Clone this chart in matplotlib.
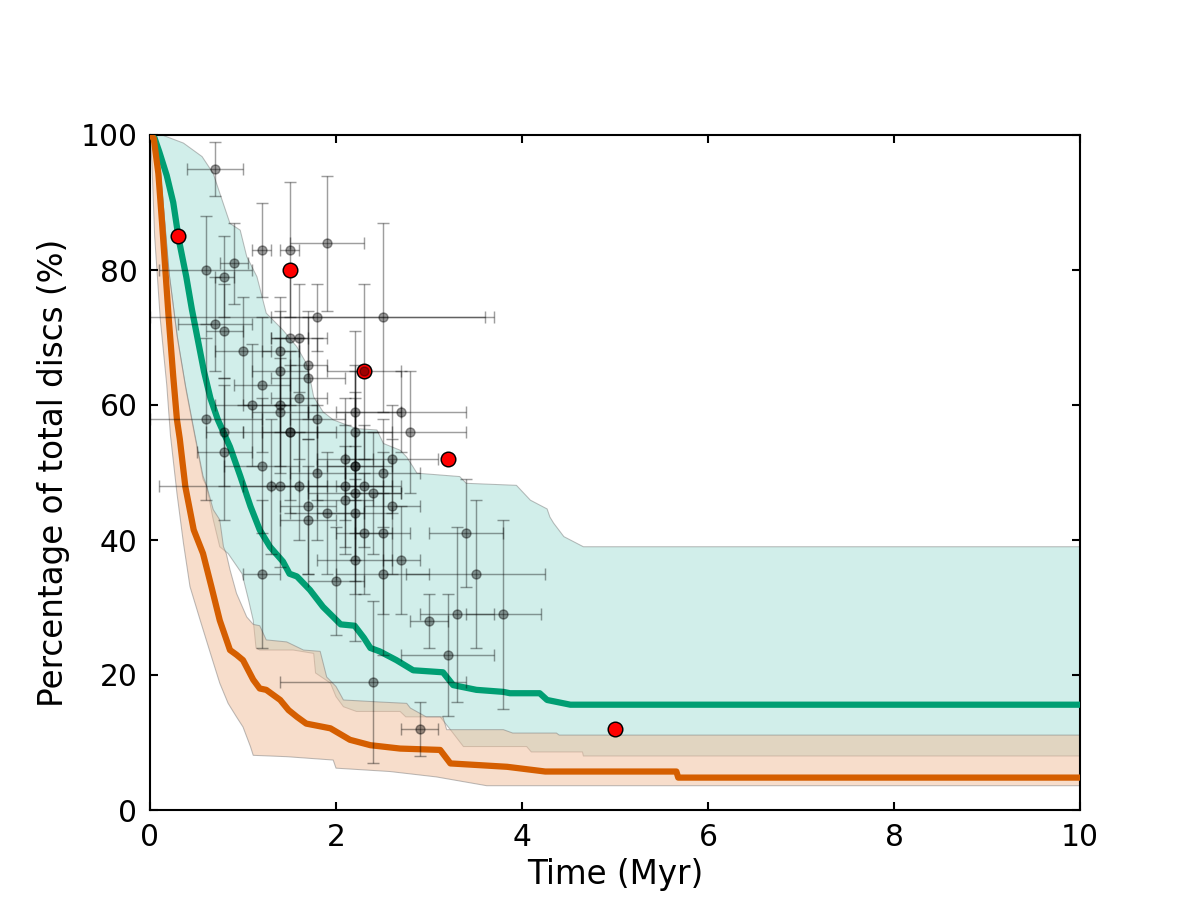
import numpy as np
import matplotlib
matplotlib.use("Agg")
import matplotlib.pyplot as plt

# ---------------- data ----------------
# observed cluster disc fractions (gray) : time (Myr), percentage, errors
gray_t = [0.7, 1.2, 1.5, 1.9, 0.6, 0.9, 0.8, 0.7, 0.8, 1.8, 2.5, 1.0, 1.4, 1.5, 1.6,
          1.4, 1.7, 1.7, 2.3, 0.6, 0.8, 0.8, 1.1, 1.4, 1.4, 1.2, 1.6, 1.5, 1.5, 1.8,
          1.2, 1.3, 1.4, 1.6, 1.7, 1.7, 1.9, 1.8, 1.2, 2.0, 2.2, 2.2, 2.1, 2.2, 2.2,
          2.1, 2.3, 2.2, 2.1, 2.4, 2.5, 2.6, 2.2, 2.6, 2.3, 2.5, 2.2, 2.7, 2.5, 2.7,
          2.8, 3.5, 3.4, 3.3, 3.8, 3.0, 3.2, 2.9, 2.4]
gray_pct = [95, 83, 83, 84, 80, 81, 79, 72, 71, 73, 73, 68, 68, 70, 70,
            65, 66, 64, 65, 58, 56, 53, 60, 60, 59, 63, 61, 56, 56, 58,
            51, 48, 48, 48, 45, 43, 44, 50, 35, 34, 59, 56, 52, 51, 51,
            48, 48, 47, 46, 47, 50, 52, 44, 45, 41, 41, 37, 37, 35, 59,
            56, 35, 41, 29, 29, 28, 23, 12, 19]
gray_terr = [0.3, 0.1, 0.1, 0.4, 0.5, 0.15, 0.1, 0.4, 0.2, 1.8, 1.2, 0.3, 0.2, 0.2, 0.3,
             0.3, 0.2, 0.4, 0.4, 0.6, 0.2, 0.3, 0.4, 0.4, 0.3, 0.3, 0.3, 0.3, 0.5, 0.3,
             0.4, 0.3, 1.3, 0.3, 0.3, 0.3, 0.4, 0.3, 0.2, 0.3, 0.5, 0.4, 0.3, 0.4, 0.3,
             0.4, 0.3, 0.5, 0.3, 0.3, 0.4, 0.5, 0.4, 0.3, 0.3, 0.3, 0.4, 0.2, 0.5, 0.7,
             0.6, 0.75, 0.4, 0.4, 0.4, 0.2, 0.5, 0.2, 1.0]
gray_pcterr = [4, 7, 10, 10, 8, 6, 6, 7, 7, 5, 14, 8, 8, 10, 8,
               9, 8, 9, 13, 12, 8, 10, 9, 10, 8, 10, 9, 12, 10, 12,
               10, 10, 12, 8, 10, 8, 9, 10, 11, 8, 12, 10, 9, 14, 10,
               9, 9, 15, 8, 9, 8, 8, 10, 10, 9, 12, 12, 8, 12, 6,
               9, 11, 8, 13, 14, 4, 9, 4, 12]

# highlighted clusters (red)
red_t = [0.3, 1.5, 2.3, 3.2, 5.0]
red_pct = [85, 80, 65, 52, 12]

# model 1 (green): median and range
green_t = [0, 0.05, 0.1, 0.18, 0.25, 0.31, 0.39, 0.45, 0.58, 0.65, 0.73, 0.86, 0.97,
           1.08, 1.18, 1.29, 1.43, 1.5, 1.58, 1.72, 1.86, 1.97, 2.05, 2.2, 2.3, 2.37,
           2.47, 2.65, 2.83, 3.15, 3.26, 3.51, 3.80, 3.87, 4.19, 4.27, 4.52, 10]
green_med = [100, 99.5, 97.5, 94, 90, 84.5, 79, 74.2, 65, 61, 57.8, 53.8, 49.5,
             45, 41.5, 39, 36.8, 35, 34.6, 32.6, 30.1, 28.6, 27.5, 27.3, 25.5, 24,
             23.5, 22.2, 20.7, 20.4, 18.5, 17.8, 17.5, 17.3, 17.3, 16.3, 15.6, 15.6]

green_up_t = [0, 0.13, 0.36, 0.56, 0.68, 0.75, 0.86, 0.97, 1.04, 1.15, 1.25, 1.43,
              1.58, 1.68, 1.72, 1.76, 1.86, 1.97, 2.22, 2.44, 2.51, 2.69, 2.76, 2.83,
              2.87, 3.33, 3.40, 3.94, 4.09, 4.27, 4.30, 4.34, 4.45, 4.66, 10]
green_up = [100, 100, 98.8, 96.8, 94.3, 91.4, 86.9, 85.9, 82, 79, 73.6, 71.1,
            68.6, 66.2, 64, 61.2, 59, 57.8, 56.5, 56.3, 54.3, 53.3, 52.3, 50.8,
            49.9, 49.4, 48.4, 48.1, 45.9, 44.6, 43.4, 42.5, 40.5, 39.0, 39.0]

green_lo_t = [0, 0.07, 0.1, 0.15, 0.21, 0.3, 0.39, 0.48, 0.57, 0.61, 0.68, 0.75,
              0.84, 0.99, 1.06, 1.11, 1.14, 1.18, 1.54, 1.76, 1.78, 1.94, 2.0, 2.08,
              2.22, 2.69, 2.75, 3.12, 3.23, 3.37, 4.05, 4.1, 4.65, 4.66, 10]
green_lo = [100, 100, 96.5, 88.5, 79, 69.5, 62, 55.5, 49, 47.9, 43, 39,
            38, 35, 31.1, 28.1, 24, 23.7, 23.7, 23.2, 20.3, 18.8, 16.8, 15.3,
            14.6, 14.6, 13.8, 13.8, 11.9, 9.4, 9.4, 8.6, 8.6, 8.0, 8.0]

# model 2 (orange): median and range
orange_t = [0, 0.04, 0.09, 0.13, 0.16, 0.2, 0.25, 0.29, 0.32, 0.38, 0.47, 0.57, 0.66,
            0.75, 0.86, 0.93, 1.0, 1.11, 1.18, 1.25, 1.4, 1.49, 1.58, 1.68, 1.94, 2.15,
            2.37, 2.69, 3.12, 3.23, 3.84, 4.25, 5.66, 5.68, 10]
orange_med = [100, 99.5, 94.3, 86.9, 81, 73.1, 64.2, 57.8, 55, 47.9, 41.5, 38, 33.1,
              28.1, 23.7, 23, 22.2, 19.3, 18, 17.8, 16.3, 14.8, 13.8, 12.8, 12.1, 10.4,
              9.6, 9.1, 8.9, 6.9, 6.4, 5.7, 5.7, 4.8, 4.8]

orange_up_t = [0, 0.05, 0.09, 0.14, 0.2, 0.29, 0.38, 0.47, 0.57, 0.61, 0.68, 0.75,
               0.79, 0.82, 0.86, 0.93, 1.04, 1.11, 1.18, 1.25, 1.47, 1.65, 1.83, 1.9,
               2.0, 2.08, 2.47, 2.76, 2.8, 2.97, 3.15, 3.19, 3.8, 3.9, 4.37, 4.4, 10]
orange_up = [100, 100, 97.5, 90.1, 80.2, 70.4, 63, 56.5, 49.5, 48, 44.5, 43,
             39, 38, 35.6, 32.1, 28.6, 27.5, 27.3, 25.2, 24.9, 23.7, 23.5, 19.7,
             18.3, 16.3, 16.0, 15.8, 15.1, 13.8, 13.8, 11.9, 11.9, 11.4, 11.4, 11.1, 11.1]

orange_lo_t = [0, 0.02, 0.05, 0.11, 0.18, 0.22, 0.29, 0.36, 0.43, 0.54, 0.65, 0.75,
               0.84, 0.93, 1.0, 1.08, 1.11, 1.47, 1.97, 2.0, 2.58, 3.08, 3.62, 10]
orange_lo = [100, 96, 85, 72.8, 63, 55.5, 46.9, 39.5, 33.1, 28.1, 23.2, 18.8,
             15.8, 13.8, 12.3, 9.4, 8.1, 7.9, 7.4, 6.2, 5.7, 4.9, 3.6, 3.6]

# ---------------- plot ----------------
plt.rcParams['font.family'] = ['DejaVu Sans']
fig = plt.figure(figsize=(8, 6), dpi=150)
ax = fig.add_axes([0.125, 0.1, 0.775, 0.75])

GREEN = '#009E73'
ORANGE = '#D55E00'

def band(tu, vu, tl, vl, color, alpha, z):
    xs = np.concatenate([np.asarray(tu), np.asarray(tl)[::-1]])
    ys = np.concatenate([np.asarray(vu), np.asarray(vl)[::-1]])
    ax.fill(xs, ys, facecolor=color, alpha=alpha, edgecolor='none', zorder=z)
    ax.plot(tu, vu, color='#7a7a7a', lw=0.5, alpha=0.5, zorder=z + 0.05)
    ax.plot(tl, vl, color='#7a7a7a', lw=0.5, alpha=0.5, zorder=z + 0.05)

band(green_up_t, green_up, green_lo_t, green_lo, '#00A68C', 0.18, 1.0)
band(orange_up_t, orange_up, orange_lo_t, orange_lo, '#F1BD99', 0.5, 1.2)

ax.plot(green_t, green_med, color=GREEN, lw=3, zorder=3)
ax.plot(orange_t, orange_med, color=ORANGE, lw=3, zorder=3)

ax.errorbar(gray_t, gray_pct, xerr=gray_terr, yerr=gray_pcterr, fmt='none',
            ecolor='k', alpha=0.38, elinewidth=0.7, capsize=3, capthick=0.7, zorder=4)
ax.plot(red_t, red_pct, 'o', mfc='red', mec='k', ms=7, mew=0.7, zorder=5)
ax.plot(gray_t, gray_pct, 'o', mfc='k', mec='k', alpha=0.38, ms=4.3, mew=0.7, zorder=6)

ax.set_xlim(0, 10)
ax.set_ylim(0, 100)
ax.set_xticks([0, 2, 4, 6, 8, 10])
ax.set_yticks([0, 20, 40, 60, 80, 100])
ax.tick_params(direction='in', top=True, right=True, length=4, width=1,
               labelsize=14.3, pad=6)
for s in ax.spines.values():
    s.set_linewidth(1.0)
ax.set_xlabel('Time (Myr)', fontsize=15.7, labelpad=3)
ax.set_ylabel('Percentage of total discs (%)', fontsize=15.7, labelpad=5)

fig.savefig('out.png', dpi=150, facecolor='white')
